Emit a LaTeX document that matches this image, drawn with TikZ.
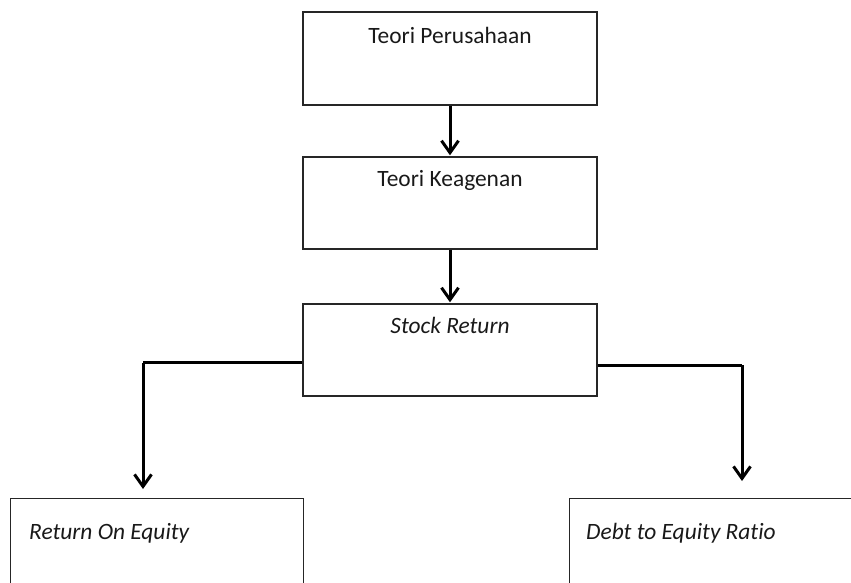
\documentclass[tikz,border=0pt]{standalone}
\usepackage{fontspec}
\setmainfont{Carlito}[Ligatures={NoCommon}]
\usetikzlibrary{arrows.meta}
\begin{document}
\begin{tikzpicture}[x=1bp,y=1bp,
  box/.style={draw=black!85,line width=1.4bp,rectangle,inner sep=0pt},
  lbl/.style={inner sep=0pt,text=black!90,font=\fontsize{23.5}{28}\selectfont},
  conn/.style={draw=black,line width=3bp,-{Straight Barb[length=12bp,width=17bp,line width=3bp]}},
  plain/.style={draw=black,line width=3bp}]
\useasboundingbox (0,-583) rectangle (851,0);
\clip (0,-583) rectangle (851,0);
\node[box,minimum width=294bp,minimum height=93bp] (b1) at (450,-58.5) {};
\node[box,minimum width=294bp,minimum height=92bp] (b2) at (450,-203) {};
\node[box,minimum width=294bp,minimum height=92bp] (b3) at (450,-350) {};
\node[box,minimum width=293bp,minimum height=110bp,anchor=north west] (b4) at (10,-498) {};
\node[box,minimum width=293bp,minimum height=110bp,anchor=north west] (b5) at (569,-498) {};
\node[lbl,anchor=base] (t1) at (450,-44) {Teori Perusahaan};
\node[lbl,anchor=base] (t2) at (450,-187) {Teori Keagenan};
\node[lbl,anchor=base] (t3) at (450,-333) {\itshape Stock Return};
\node[lbl,anchor=base west] (t4) at (29,-539) {\itshape Return On Equity};
\node[lbl,anchor=base west] (t5) at (586,-539) {\itshape Debt to Equity Ratio};
\coordinate (lc) at (143,-362.5);
\coordinate (rc) at (742,-365);
\coordinate (lt) at (143,-489);
\coordinate (rt) at (742,-481);
\draw[conn] (b1.south) -- ([yshift=1bp]b2.north);
\draw[conn] (b2.south) -- ([yshift=1bp]b3.north);
\draw[plain] (b3.west |- lc) -- (lc);
\draw[conn] (lc) -- (lt);
\draw[plain] (b3.east |- rc) -- (rc);
\draw[conn] (rc) -- (rt);
\end{tikzpicture}
\end{document}
